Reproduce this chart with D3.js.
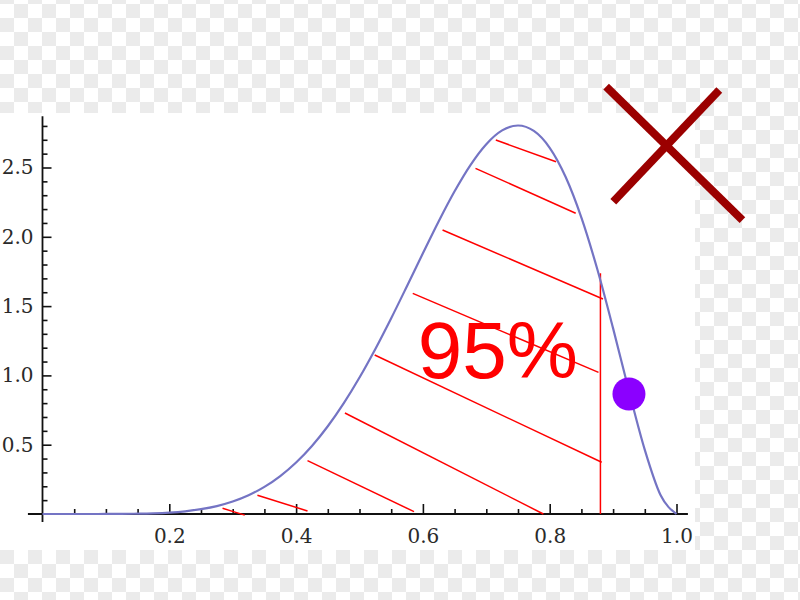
<!DOCTYPE html>
<html>
<head>
<meta charset="utf-8">
<script src="https://cdn.jsdelivr.net/npm/d3@7"></script>
<style>
  html, body { margin: 0; padding: 0; background: #fff; }
  svg { display: block; }
</style>
</head>
<body>
<div id="chart"></div>
<script>
// ---- data ----
const curveX = [0.000,0.025,0.050,0.075,0.100,0.125,0.150,0.175,0.200,0.225,0.250,0.275,0.300,0.325,0.350,0.375,0.400,0.425,0.450,0.475,0.500,0.525,0.550,0.575,0.600,0.625,0.650,0.675,0.700,0.725,0.750,0.775,0.800,0.825,0.850,0.875,0.900,0.925,0.950,0.975,1.000];
const curveY = [0.0000,0.0000,0.0000,0.0000,0.0002,0.0007,0.0021,0.0049,0.0103,0.0196,0.0346,0.0573,0.0900,0.1353,0.1957,0.2738,0.3716,0.4910,0.6330,0.7978,0.9844,1.1906,1.4126,1.6451,1.8811,2.1123,2.3282,2.5176,2.6682,2.7675,2.8032,2.7642,2.6424,2.4333,2.1384,1.7672,1.3392,0.8880,0.4631,0.1353,0.0000];

// hatch segments [x1, y1, x2, y2]
const hatchX1 = [0.715,0.683,0.631,0.584,0.524,0.477,0.418,0.339,0.284];
const hatchY1 = [2.698,2.494,2.049,1.592,1.147,0.729,0.385,0.135,0.041];
const hatchX2 = [0.810,0.841,0.884,0.877,0.882,0.790,0.586,0.418,0.319];
const hatchY2 = [2.542,2.170,1.551,1.022,0.373,0.000,0.017,0.022,-0.008];

const cutoffX = 0.88, cutoffTop = 1.737;
const pointX = [0.925], pointY = [0.866];
const labelText = "95%", labelX = 0.592, labelY = 0.981;

// cross mark [x1,y1,x2,y2]
const crossX1 = [0.889, 1.0675], crossY1 = [3.083, 3.059];
const crossX2 = [1.104, 0.9003], crossY2 = [2.121, 2.253];

const xMajor = [0.2,0.4,0.6,0.8,1.0];
const xMajorLabels = ["0.2","0.4","0.6","0.8","1.0"];
const xMinor = [0.05,0.1,0.15,0.25,0.3,0.35,0.45,0.5,0.55,0.65,0.7,0.75,0.85,0.9,0.95];
const yMajor = [0.5,1.0,1.5,2.0,2.5];
const yMajorLabels = ["0.5","1.0","1.5","2.0","2.5"];
const yMinor = [0.1,0.2,0.3,0.4,0.6,0.7,0.8,0.9,1.1,1.2,1.3,1.4,1.6,1.7,1.8,1.9,2.1,2.2,2.3,2.4,2.6,2.7,2.8];

// ---- drawing ----
const W = 800, H = 600;
const svg = d3.select("#chart").append("svg").attr("width", W).attr("height", H);

const defs = svg.append("defs");
const pat = defs.append("pattern").attr("id","checker").attr("patternUnits","userSpaceOnUse")
  .attr("width",28).attr("height",28).attr("x",0).attr("y",18);
pat.append("rect").attr("width",28).attr("height",28).attr("fill","#ffffff");
pat.append("rect").attr("x",0).attr("y",0).attr("width",14).attr("height",14).attr("fill","#ebebeb");
pat.append("rect").attr("x",14).attr("y",14).attr("width",14).attr("height",14).attr("fill","#ebebeb");

svg.append("rect").attr("width",W).attr("height",H).attr("fill","url(#checker)");
svg.append("rect").attr("x",0).attr("y",113).attr("width",695).attr("height",437).attr("fill","#ffffff");

const x = d3.scaleLinear().domain([0,1]).range([42.5,676.5]);
const y = d3.scaleLinear().domain([0,2.8]).range([514, 514 - 2.8*138.6]);

// minor ticks
svg.append("g").attr("transform",`translate(0,${y(0)})`)
  .call(d3.axisBottom(x).tickValues(xMinor).tickSize(-5).tickSizeOuter(0).tickFormat(""))
  .call(g => g.select(".domain").remove())
  .call(g => g.selectAll("line").attr("stroke","#111").attr("stroke-width",1.6));
svg.append("g").attr("transform",`translate(${x(0)},0)`)
  .call(d3.axisLeft(y).tickValues(yMinor).tickSize(-5).tickSizeOuter(0).tickFormat(""))
  .call(g => g.select(".domain").remove())
  .call(g => g.selectAll("line").attr("stroke","#111").attr("stroke-width",1.6));

// major ticks with labels
svg.append("g").attr("transform",`translate(0,${y(0)})`)
  .call(d3.axisBottom(x).tickValues(xMajor).tickSize(-10).tickSizeOuter(0).tickPadding(15)
        .tickFormat((d,i) => xMajorLabels[i]))
  .call(g => g.select(".domain").remove())
  .call(g => g.selectAll("line").attr("stroke","#111").attr("stroke-width",1.6))
  .call(g => g.selectAll("text").attr("fill","#2a2a2a").attr("font-family","DejaVu Serif").attr("font-size",20));
svg.append("g").attr("transform",`translate(${x(0)},0)`)
  .call(d3.axisLeft(y).tickValues(yMajor).tickSize(-9).tickSizeOuter(0).tickPadding(9)
        .tickFormat((d,i) => yMajorLabels[i]))
  .call(g => g.select(".domain").remove())
  .call(g => g.selectAll("line").attr("stroke","#111").attr("stroke-width",1.6))
  .call(g => g.selectAll("text").attr("fill","#2a2a2a").attr("font-family","DejaVu Serif").attr("font-size",20));

// axis lines (extend a bit past the origin)
svg.append("line").attr("x1", x(-0.023)).attr("x2", x(1.018)).attr("y1", y(0)).attr("y2", y(0))
  .attr("stroke","#111").attr("stroke-width",1.8);
svg.append("line").attr("x1", x(0)).attr("x2", x(0)).attr("y1", y(-0.057)).attr("y2", y(2.87))
  .attr("stroke","#111").attr("stroke-width",1.8);

// hatch lines
svg.append("g").selectAll("line").data(hatchX1).join("line")
  .attr("x1",(d,i)=>x(hatchX1[i])).attr("y1",(d,i)=>y(hatchY1[i]))
  .attr("x2",(d,i)=>x(hatchX2[i])).attr("y2",(d,i)=>y(hatchY2[i]))
  .attr("stroke","#ff0000").attr("stroke-width",1.5);
svg.append("line").attr("x1",x(cutoffX)).attr("x2",x(cutoffX)).attr("y1",y(0)).attr("y2",y(cutoffTop))
  .attr("stroke","#ff0000").attr("stroke-width",1.5);

// density curve
const pts = curveX.map((d,i)=>[d, curveY[i]]);
svg.append("path").datum(pts)
  .attr("d", d3.line().x(d=>x(d[0])).y(d=>y(d[1])).curve(d3.curveMonotoneX))
  .attr("fill","none").attr("stroke","#7474c4").attr("stroke-width",2.2);

// label
svg.append("text").attr("x",x(labelX)).attr("y",y(labelY))
  .attr("font-family","Liberation Sans, Arial, sans-serif").attr("font-size",80)
  .attr("fill","#ff0000").text(labelText);

// point
svg.append("g").selectAll("circle").data(pointX).join("circle")
  .attr("cx",(d,i)=>x(pointX[i])).attr("cy",(d,i)=>y(pointY[i])).attr("r",16.5)
  .attr("fill","#8b00ff");

// cross
svg.append("g").selectAll("line").data(crossX1).join("line")
  .attr("x1",(d,i)=>x(crossX1[i])).attr("y1",(d,i)=>y(crossY1[i]))
  .attr("x2",(d,i)=>x(crossX2[i])).attr("y2",(d,i)=>y(crossY2[i]))
  .attr("stroke","#9b0000").attr("stroke-width",8);
</script>
</body>
</html>
